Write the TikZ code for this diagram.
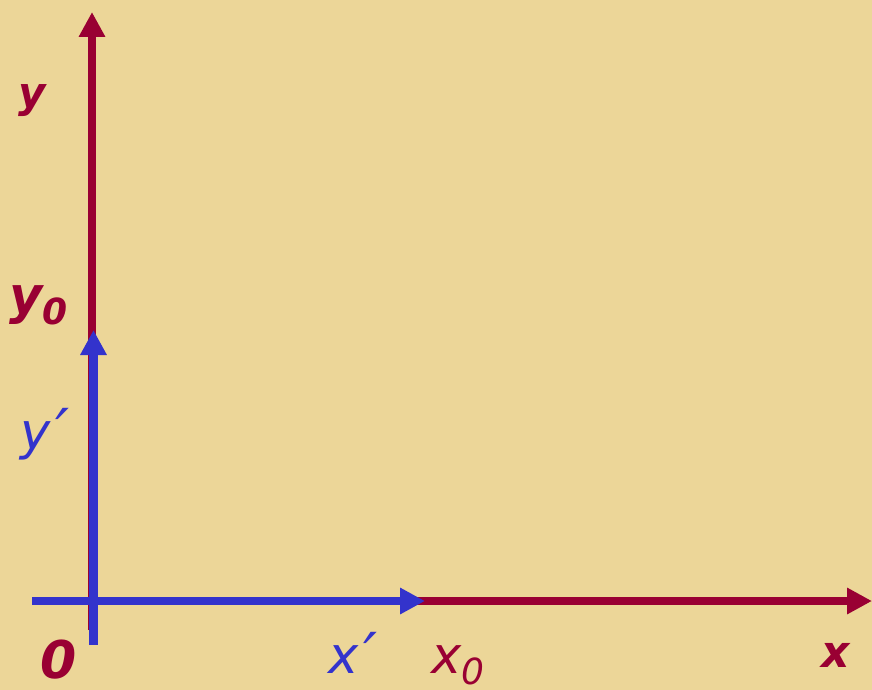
\documentclass[tikz,border=0pt]{standalone}
\usepackage{fontspec}
\setmainfont{DejaVu Sans}
\usepackage{xcolor}
\usetikzlibrary{
    arrows.meta,
    positioning
}

\definecolor{axisred}{RGB}{153,0,51}
\definecolor{vecblue}{RGB}{51,51,204}
\definecolor{papyrus}{RGB}{236,214,152}

\newcommand{\lowidx}[1]{\raisebox{-11pt}{\fontsize{36}{36}\selectfont #1}}
\newcommand{\primemark}{\kern5pt\raisebox{-4pt}{\fontsize{62}{62}\selectfont ′}}

\begin{document}
\begin{tikzpicture}[
        x=1pt, y=-1pt,
        axis/.style={
            draw=axisred,
            line width=8.5pt,
            -{Triangle[length=25pt,width=25pt]}
        },
        vec/.style={
            draw=vecblue,
            line width=8.5pt,
            -{Triangle[length=25pt,width=25pt]}
        },
        redlabel/.style={
            text=axisred,
            inner sep=0pt,
            anchor=base west,
            font=\fontsize{51}{60}\selectfont\itshape
        },
        bluelabel/.style={
            text=vecblue,
            inner sep=0pt,
            anchor=base west,
            font=\fontsize{51}{60}\selectfont\itshape
        }
    ]

    \fill[papyrus] (0,0) rectangle (872,690);
    \useasboundingbox (0,0) rectangle (872,690);

    % fixed frame
    \coordinate (origin) at (92,601);
    \coordinate (xend) at (872,601);
    \coordinate (ybottom) at (92,630);
    \coordinate (yend) at (92,12);

    % moved frame
    \coordinate (xpstart) at (32,601);
    \coordinate (xpend) at (425,601);
    \coordinate (ypstart) at (93.5,645);
    \coordinate (ypend) at (93.5,330);

    \draw[axis] (origin) -- (xend);
    \draw[axis] (ybottom) -- (yend);

    \draw[vec] (xpstart) -- (xpend);
    \draw[vec] (ypstart) -- (ypend);

    \node[redlabel, font=\fontsize{42}{50}\selectfont\bfseries\itshape]
        (ylabel) at (18,108) {y};
    \node[redlabel, font=\fontsize{51}{60}\selectfont\bfseries\itshape]
        (y0label) at (9,313) {y\lowidx{0}};
    \node[bluelabel] (yplabel) at (20,449) {y\primemark};

    \node[redlabel, font=\fontsize{52}{60}\selectfont\bfseries\itshape]
        (olabel) at (40,678) {0};
    \node[bluelabel] (xplabel) at (328,673) {x\primemark};
    \node[redlabel] (x0label) at (431,673) {x\lowidx{0}};
    \node[redlabel, font=\fontsize{44}{50}\selectfont\bfseries\itshape]
        (xlabel) at (821,667) {x};

\end{tikzpicture}
\end{document}
